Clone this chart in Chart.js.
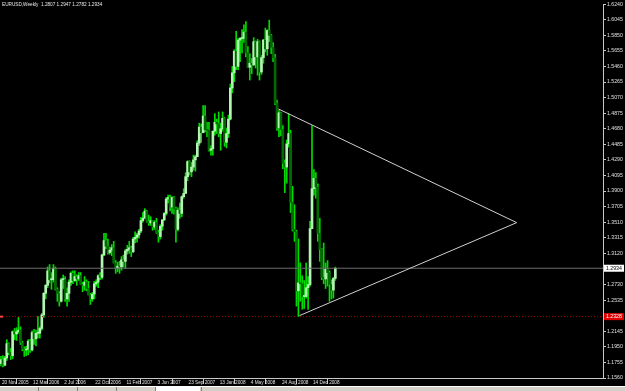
<!DOCTYPE html>
<html>
<head>
<meta charset="utf-8">
<script src="https://cdn.jsdelivr.net/npm/chart.js@4.4.1/dist/chart.umd.min.js"></script>
<style>
  html, body { margin: 0; padding: 0; background: #000; }
  #wrap { width: 625px; height: 391px; }
</style>
</head>
<body>
<div id="wrap"><canvas id="chart" width="625" height="391"></canvas></div>
<script>
// EURUSD weekly candles, one entry per week starting 20 Nov 2005
const symbolName = "EURUSD,Weekly";

const opens = [
  1.1740,1.1790,1.1720,1.1810,1.1990,1.1880,1.1840,1.2140,1.2110,1.2140,
  1.2160,1.2000,1.1920,1.1910,1.1920,1.2020,1.1910,1.2130,1.2050,1.2120,
  1.2120,1.2180,1.2350,1.2620,1.2720,1.2900,1.2790,1.2790,1.2930,1.2670,
  1.2620,1.2520,1.2790,1.2790,1.2550,1.2620,1.2760,1.2870,1.2780,1.2830,
  1.2800,1.2840,1.2730,1.2720,1.2760,1.2680,1.2600,1.2550,1.2610,1.2740,
  1.2760,1.2840,1.2820,1.3100,1.3280,1.3210,1.3130,1.3160,1.3190,1.3000,
  1.2940,1.2960,1.2950,1.3040,1.3020,1.3150,1.3170,1.3190,1.3140,1.3300,
  1.3320,1.3350,1.3400,1.3530,1.3560,1.3650,1.3520,1.3500,1.3530,1.3450,
  1.3510,1.3380,1.3330,1.3460,1.3540,1.3620,1.3800,1.3820,1.3700,1.3820,
  1.3680,1.3420,1.3660,1.3620,1.3830,1.3870,1.4080,1.4270,1.4140,1.4200,
  1.4290,1.4330,1.4500,1.4700,1.4630,1.4840,1.4670,1.4660,1.4410,1.4430,
  1.4650,1.4760,1.4740,1.4620,1.4680,1.4810,1.4510,1.4620,1.4800,1.5190,
  1.5380,1.5650,1.5460,1.5790,1.5810,1.5810,1.5890,1.5630,1.5450,1.5500,
  1.5480,1.5770,1.5580,1.5770,1.5390,1.5570,1.5790,1.5680,1.5910,1.5850,
  1.5700,1.5570,1.5000,1.4690,1.4880,1.4670,1.4250,1.4200,1.4490,1.4620,
  1.3760,1.3420,1.3390,1.2650,1.2750,1.2740,1.2580,1.2580,1.2690,1.2730,
  1.3430,1.3930,1.4060,1.3950,1.3370,1.3170,1.2820,1.2800,1.2920,1.2880,
  1.2730,1.2660,1.2807
];
const highs = [
  1.1830,1.1840,1.1830,1.2040,1.2000,1.1930,1.2150,1.2180,1.2190,1.2320,
  1.2200,1.2020,1.1950,1.1960,1.2040,1.2040,1.2150,1.2170,1.2160,1.2330,
  1.2200,1.2370,1.2630,1.2730,1.2950,1.2980,1.2880,1.2980,1.2950,1.2690,
  1.2640,1.2810,1.2850,1.2830,1.2690,1.2790,1.2890,1.2900,1.2900,1.2850,
  1.2880,1.2880,1.2760,1.2830,1.2790,1.2770,1.2620,1.2630,1.2770,1.2790,
  1.2850,1.2880,1.3110,1.3370,1.3370,1.3300,1.3200,1.3230,1.3270,1.3030,
  1.3010,1.3020,1.3080,1.3100,1.3170,1.3220,1.3270,1.3210,1.3320,1.3390,
  1.3370,1.3420,1.3570,1.3630,1.3680,1.3660,1.3600,1.3580,1.3530,1.3530,
  1.3560,1.3410,1.3480,1.3540,1.3630,1.3820,1.3850,1.3850,1.3830,1.3830,
  1.3700,1.3690,1.3750,1.3840,1.3930,1.4130,1.4280,1.4280,1.4260,1.4350,
  1.4350,1.4530,1.4750,1.4740,1.4970,1.4970,1.4760,1.4760,1.4470,1.4650,
  1.4870,1.4800,1.4890,1.4750,1.4890,1.4820,1.4690,1.4850,1.5240,1.5460,
  1.5670,1.5900,1.5810,1.5820,1.5920,1.5980,1.6020,1.5710,1.5620,1.5560,
  1.5820,1.5780,1.5800,1.5780,1.5600,1.5800,1.5940,1.5920,1.6040,1.5860,
  1.5760,1.5610,1.5040,1.4910,1.4890,1.4720,1.4290,1.4540,1.4870,1.4660,
  1.3960,1.3730,1.3410,1.3300,1.3000,1.2840,1.2780,1.3000,1.2830,1.3520,
  1.4720,1.4170,1.4130,1.3990,1.3560,1.3180,1.3250,1.3000,1.3030,1.2900,
  1.2790,1.2820,1.2947
];
const lows = [
  1.1710,1.1700,1.1710,1.1780,1.1850,1.1790,1.1800,1.2040,1.2030,1.2120,
  1.1980,1.1900,1.1830,1.1840,1.1850,1.1880,1.1900,1.1980,1.1960,1.2060,
  1.2060,1.2160,1.2320,1.2550,1.2690,1.2750,1.2670,1.2760,1.2660,1.2520,
  1.2460,1.2510,1.2680,1.2520,1.2460,1.2520,1.2720,1.2740,1.2770,1.2720,
  1.2780,1.2730,1.2640,1.2660,1.2650,1.2600,1.2480,1.2520,1.2550,1.2710,
  1.2690,1.2790,1.2800,1.3090,1.3180,1.3110,1.3110,1.3090,1.3000,1.2870,
  1.2890,1.2870,1.2910,1.2950,1.2930,1.3110,1.3120,1.3080,1.3130,1.3250,
  1.3260,1.3310,1.3380,1.3510,1.3560,1.3510,1.3470,1.3470,1.3410,1.3420,
  1.3370,1.3260,1.3300,1.3410,1.3530,1.3600,1.3750,1.3650,1.3620,1.3610,
  1.3260,1.3400,1.3560,1.3580,1.3810,1.3870,1.4030,1.4100,1.4080,1.4160,
  1.4150,1.4330,1.4470,1.4510,1.4630,1.4640,1.4580,1.4400,1.4350,1.4350,
  1.4600,1.4620,1.4580,1.4410,1.4650,1.4460,1.4440,1.4570,1.4790,1.5130,
  1.5270,1.5420,1.5420,1.5520,1.5630,1.5760,1.5580,1.5450,1.5290,1.5370,
  1.5470,1.5440,1.5350,1.5290,1.5360,1.5500,1.5640,1.5600,1.5770,1.5620,
  1.5520,1.4980,1.4660,1.4580,1.4590,1.4180,1.3880,1.4000,1.4450,1.3630,
  1.3400,1.3270,1.2460,1.2330,1.2520,1.2420,1.2430,1.2560,1.2420,1.2710,
  1.3430,1.3850,1.3810,1.3270,1.3020,1.2790,1.2740,1.2680,1.2710,1.2520,
  1.2550,1.2560,1.2782
];
const closes = [
  1.1790,1.1720,1.1810,1.1990,1.1880,1.1840,1.2140,1.2110,1.2140,1.2160,
  1.2000,1.1920,1.1910,1.1920,1.2020,1.1910,1.2130,1.2050,1.2120,1.2120,
  1.2180,1.2350,1.2620,1.2720,1.2900,1.2790,1.2790,1.2930,1.2670,1.2620,
  1.2520,1.2790,1.2790,1.2550,1.2620,1.2760,1.2870,1.2780,1.2830,1.2800,
  1.2840,1.2730,1.2720,1.2760,1.2680,1.2600,1.2550,1.2610,1.2740,1.2760,
  1.2840,1.2820,1.3100,1.3280,1.3210,1.3130,1.3160,1.3190,1.3000,1.2940,
  1.2960,1.2950,1.3040,1.3020,1.3150,1.3170,1.3190,1.3140,1.3300,1.3320,
  1.3350,1.3400,1.3530,1.3560,1.3650,1.3520,1.3500,1.3530,1.3450,1.3510,
  1.3380,1.3330,1.3460,1.3540,1.3620,1.3800,1.3820,1.3700,1.3820,1.3680,
  1.3420,1.3660,1.3620,1.3830,1.3870,1.4080,1.4270,1.4140,1.4200,1.4290,
  1.4330,1.4500,1.4700,1.4630,1.4840,1.4670,1.4660,1.4410,1.4430,1.4650,
  1.4760,1.4740,1.4620,1.4680,1.4810,1.4510,1.4620,1.4800,1.5190,1.5380,
  1.5650,1.5460,1.5790,1.5810,1.5810,1.5890,1.5630,1.5450,1.5500,1.5480,
  1.5770,1.5580,1.5770,1.5390,1.5570,1.5790,1.5680,1.5910,1.5850,1.5700,
  1.5570,1.5000,1.4690,1.4880,1.4670,1.4250,1.4200,1.4490,1.4620,1.3760,
  1.3420,1.3390,1.2650,1.2750,1.2740,1.2580,1.2580,1.2690,1.2730,1.3430,
  1.3930,1.4060,1.3950,1.3370,1.3170,1.2820,1.2800,1.2920,1.2880,1.2730,
  1.2660,1.2807,1.2934
];

// date labels on the time axis (bar index -> text)
const dateTickIdx = [0, 16, 32, 48, 64, 80, 96, 112, 128, 144, 160];
const dateLabels = ["20 Nov 2005", "12 Mar 2006", "2 Jul 2006", "22 Oct 2006", "11 Feb 2007",
  "3 Jun 2007", "23 Sep 2007", "13 Jan 2008", "4 May 2008", "24 Aug 2008", "14 Dec 2008"];

// price scale labels
const priceTicks = [1.1560, 1.1755, 1.1950, 1.2145, 1.2340, 1.2535, 1.2730, 1.2925, 1.3120,
  1.3315, 1.3510, 1.3705, 1.3900, 1.4095, 1.4290, 1.4485, 1.4680, 1.4875, 1.5070, 1.5265,
  1.5460, 1.5655, 1.5850, 1.6045, 1.6240];

// triangle object (bar index, price) and the red horizontal level
const triangleIdx = [142.7, 265.3, 153.5];
const trianglePrice = [1.4928, 1.3505, 1.2340];
const levelPrice = 1.2328;

const xMin = -0.5;
const xMax = 309.7;
const lastClose = closes[closes.length - 1];

const wickData = highs.map((h, i) => ({ x: i, y: [lows[i], h] }));
const bodyData = opens.map((o, i) => ({ x: i, y: [o, closes[i]] }));
const bodyColors = opens.map((o, i) => (closes[i] >= o ? "#b4f4b4" : "#006a00"));

const smallFont = "'Liberation Sans', Arial, sans-serif";

const mtChrome = {
	id: "mtChrome",
	beforeDraw(chart) {
		const ctx = chart.ctx;
		ctx.save();
		ctx.fillStyle = "#000";
		ctx.fillRect(0, 0, chart.width, chart.height);
		ctx.restore();
	},
	afterDraw(chart) {
		const ctx = chart.ctx;
		const area = chart.chartArea;
		const y = chart.scales.y;
		ctx.save();
		// header
		ctx.font = `4.7px ${smallFont}`;
		ctx.fillStyle = "#e8e8e8";
		ctx.textBaseline = "middle";
		const n = opens.length - 1;
		ctx.fillText(`${symbolName}  ${opens[n].toFixed(4)} ${highs[n].toFixed(4)} ${lows[n].toFixed(4)} ${closes[n].toFixed(4)}`, 2, 5);
		// price boxes on the scale
		ctx.font = `5.2px ${smallFont}`;
		const boxes = [
			{ v: lastClose, bg: "#ffffff", fg: "#000000" },
			{ v: levelPrice, bg: "#e00000", fg: "#ffffff" },
		];
		for (const b of boxes) {
			const py = y.getPixelForValue(b.v);
			ctx.fillStyle = b.bg;
			ctx.fillRect(area.right + 1, py - 3.5, 20, 7);
			ctx.fillStyle = b.fg;
			ctx.textAlign = "left";
			ctx.fillText(b.v.toFixed(4), area.right + 3, py);
		}
		// level marker at left edge
		const ly = y.getPixelForValue(levelPrice);
		ctx.fillStyle = "#ff4040";
		ctx.fillRect(0, ly - 1, 3, 2);
		// window tab strip
		ctx.fillStyle = "#ffffff";
		ctx.fillRect(0, 386, chart.width, 1);
		ctx.fillStyle = "#d4d0c8";
		ctx.fillRect(0, 387, chart.width, 4);
		ctx.fillStyle = "#ffffff";
		ctx.fillRect(156, 387, 44, 4);
		ctx.fillStyle = "#808080";
		for (const sx of [38, 77, 116, 155, 201]) ctx.fillRect(sx, 387, 1, 4);
		ctx.restore();
	},
};

const chart = new Chart(document.getElementById("chart"), {
	type: "bar",
	data: {
		datasets: [
			{
				label: "wick",
				data: wickData,
				backgroundColor: "#00dc00",
				barThickness: 1,
				grouped: false,
				order: 3,
			},
			{
				label: "body",
				data: bodyData,
				backgroundColor: bodyColors,
				barThickness: 2,
				minBarLength: 1,
				grouped: false,
				order: 2,
			},
			{
				type: "line",
				label: "price",
				data: [{ x: xMin, y: lastClose }, { x: xMax, y: lastClose }],
				borderColor: "#6e6e6e",
				borderWidth: 1,
				pointRadius: 0,
				order: 1,
			},
			{
				type: "line",
				label: "level",
				data: [{ x: xMin, y: levelPrice }, { x: xMax, y: levelPrice }],
				borderColor: "#a00000",
				borderWidth: 1,
				borderDash: [1, 2],
				pointRadius: 0,
				order: 1,
			},
			{
				type: "line",
				label: "triangle",
				data: triangleIdx.map((v, i) => ({ x: v, y: trianglePrice[i] })),
				borderColor: "#d0d0d0",
				borderWidth: 1,
				pointRadius: 0,
				tension: 0,
				order: 0,
			},
		],
	},
	options: {
		responsive: false,
		devicePixelRatio: 1,
		animation: false,
		layout: { padding: 0 },
		plugins: {
			legend: { display: false },
			tooltip: { enabled: false },
		},
		scales: {
			x: {
				type: "linear",
				position: "bottom",
				min: xMin,
				max: xMax,
				offset: false,
				afterBuildTicks: (scale) => {
					scale.ticks = dateTickIdx.map((v) => ({ value: v }));
				},
				afterFit: (scale) => {
					scale.height = 13;
				},
				ticks: {
					autoSkip: false,
					maxRotation: 0,
					align: "start",
					labelOffset: 1,
					padding: -4,
					color: "#e0e0e0",
					font: { family: smallFont, size: 4.7 },
					callback: (value) => dateLabels[dateTickIdx.indexOf(value)],
				},
				grid: {
					drawOnChartArea: false,
					drawTicks: true,
					tickLength: 6,
					color: "#c8c8c8",
				},
				border: { color: "#c8c8c8" },
			},
			y: {
				type: "linear",
				position: "right",
				min: 1.156,
				max: 1.624,
				afterBuildTicks: (scale) => {
					scale.ticks = priceTicks.map((v) => ({ value: v }));
				},
				afterFit: (scale) => {
					scale.width = 22;
				},
				ticks: {
					autoSkip: false,
					padding: 1,
					color: "#e0e0e0",
					font: { family: smallFont, size: 5.2 },
					callback: (value) => value.toFixed(4),
				},
				grid: {
					drawOnChartArea: false,
					drawTicks: true,
					tickLength: 3,
					color: "#c8c8c8",
				},
				border: { color: "#c8c8c8" },
			},
		},
	},
	plugins: [mtChrome],
});
</script>
</body>
</html>
